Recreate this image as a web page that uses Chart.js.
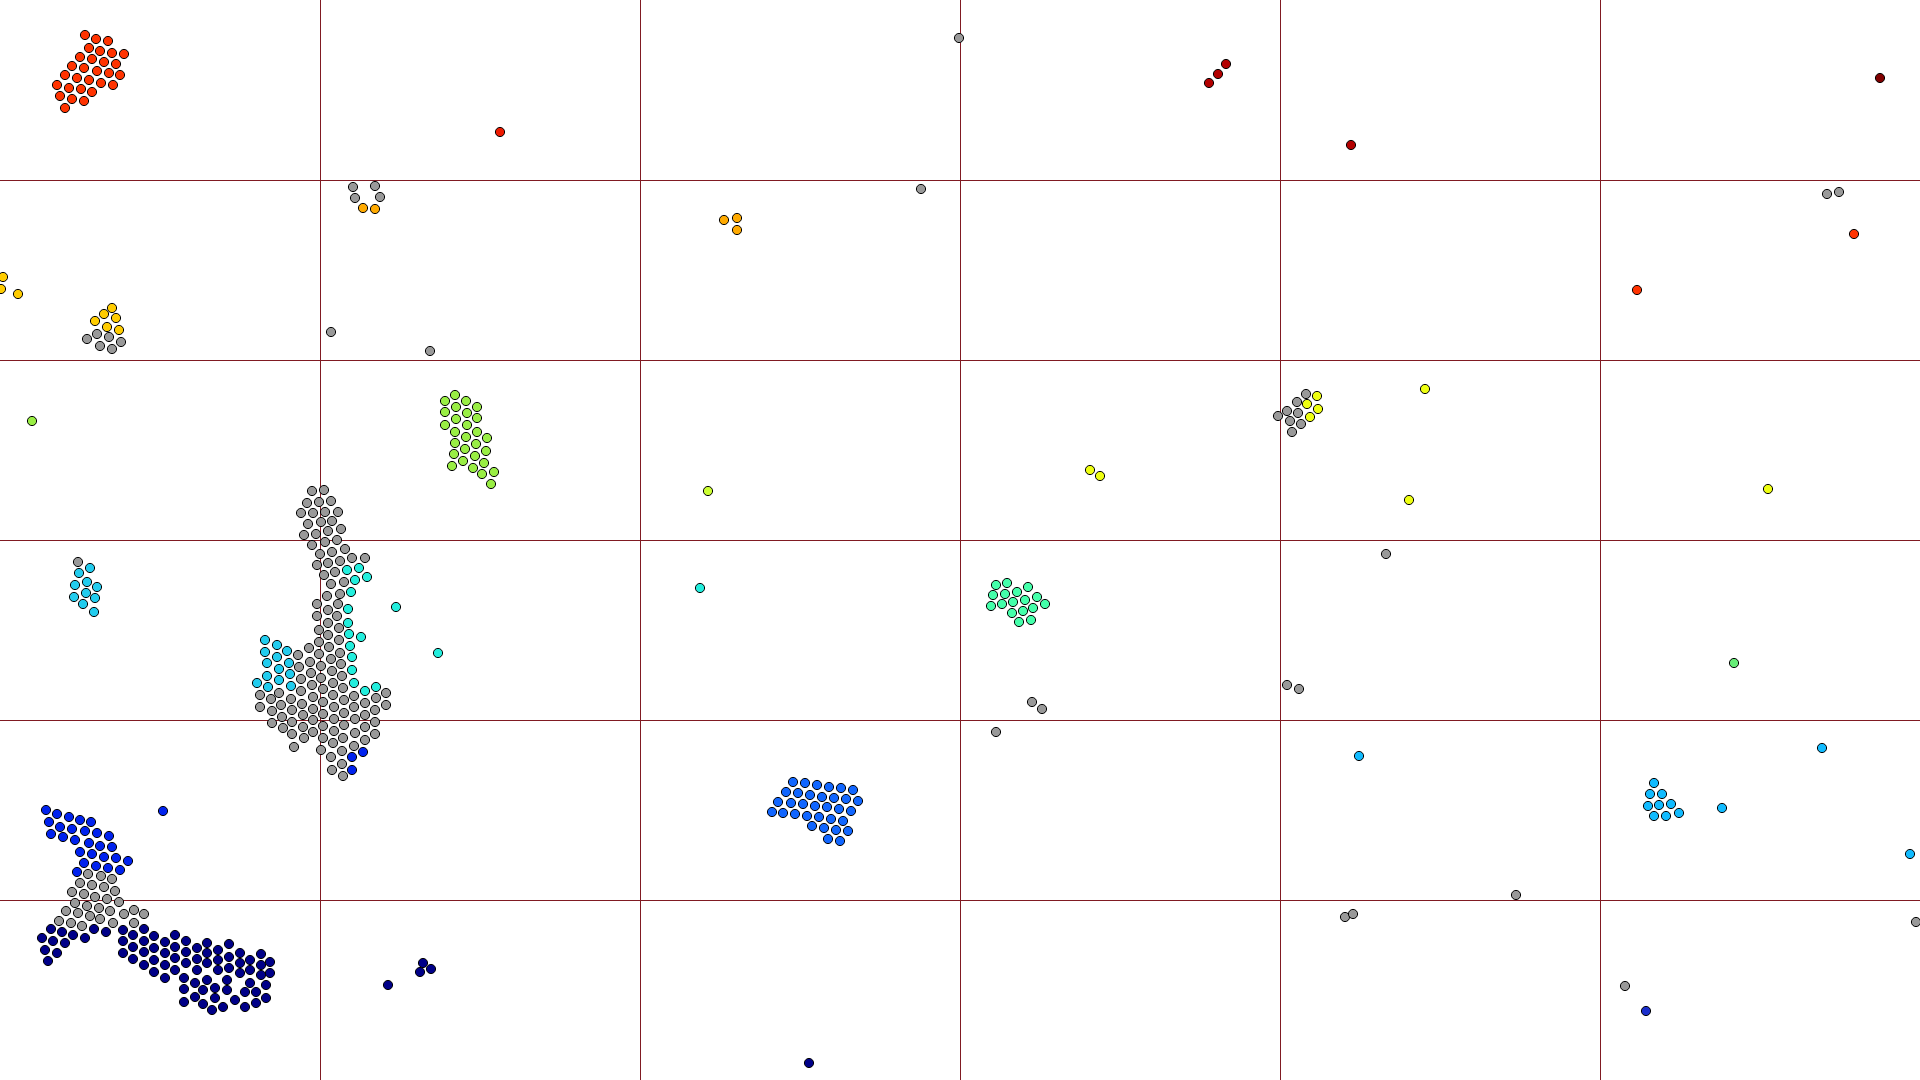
<!DOCTYPE html>
<html>
<head>
<meta charset="utf-8">
<script src="https://cdn.jsdelivr.net/npm/chart.js@4/dist/chart.umd.min.js"></script>
<style>
  html, body { margin: 0; padding: 0; background: #fff; overflow: hidden; }
  canvas { display: block; }
</style>
</head>
<body>
<canvas id="mapChart" width="1920" height="1080"></canvas>
<script>
/* ============================
   Grid: 6 x 6 cells
============================ */
const xMax = 1920;
const yMax = 1080;
const xStep = 320;
const yStep = 180;

/* ============================
   Point groups [x, y]
============================ */
const maroonPts = [[1880, 78]];
const darkRedPts = [[1351, 145], [1209, 83], [1218, 74], [1226, 64]];
const redPts = [[500, 132]];
const redOrangePts = [
  [85, 35], [96, 39], [108, 41], [89, 48], [100, 51], [112, 53], [124, 54],
  [80, 57], [92, 59], [104, 62], [116, 64], [72, 66], [84, 68], [97, 71],
  [109, 73], [120, 75], [65, 75], [77, 78], [89, 80], [101, 83], [113, 85],
  [57, 85], [69, 88], [81, 89], [92, 92], [60, 96], [72, 99], [84, 101], [65, 108],
  [1854, 234], [1637, 290]
];
const orangePts = [[724, 220], [737, 218], [737, 230], [363, 208], [375, 209]];
const goldPts = [
  [3, 277], [1, 289], [18, 294],
  [112, 308], [104, 314], [116, 318], [95, 321], [107, 327], [119, 330]
];
const yellowPts = [
  [1317, 396], [1307, 404], [1318, 409], [1310, 417],
  [1425, 389], [1409, 500], [1768, 489], [1090, 470], [1100, 476]
];
const limePts = [[708, 491]];
const greenPts = [
  [455, 395], [445, 401], [466, 401], [456, 407], [477, 407], [445, 412],
  [467, 413], [456, 419], [477, 418], [445, 425], [467, 425], [455, 432],
  [477, 432], [466, 437], [487, 438], [455, 443], [476, 444], [465, 449],
  [486, 451], [454, 454], [475, 456], [463, 461], [484, 463], [452, 466],
  [473, 468], [494, 472], [482, 474], [491, 484], [32, 421]
];
const mintPts = [[1734, 663]];
const aquaPts = [
  [996, 585], [1007, 583], [993, 595], [1005, 594], [1017, 592], [1028, 587],
  [991, 606], [1002, 604], [1013, 602], [1025, 600], [1037, 597], [1045, 604],
  [1012, 613], [1023, 611], [1033, 608], [1019, 622], [1031, 620]
];
const turquoisePts = [
  [347, 570], [359, 568], [367, 577], [355, 580], [351, 592], [348, 609],
  [348, 623], [349, 634], [350, 646], [352, 657], [352, 670], [354, 683],
  [361, 637], [365, 691], [376, 687], [396, 607], [438, 653], [700, 588]
];
const cyanPts = [
  [257, 683], [265, 640], [265, 652], [267, 663], [267, 676], [268, 687],
  [277, 645], [277, 657], [279, 669], [279, 680], [287, 651], [289, 663],
  [290, 674], [291, 686],
  [79, 573], [90, 568], [75, 585], [87, 582], [97, 587], [74, 597],
  [86, 593], [95, 598], [83, 604], [94, 612]
];
const skyPts = [
  [1654, 783], [1650, 794], [1662, 794], [1648, 806], [1659, 805], [1671, 804],
  [1654, 816], [1666, 816], [1679, 813],
  [1359, 756], [1822, 748], [1722, 808], [1910, 854]
];
const midBluePts = [
  [793, 782], [805, 783], [817, 785], [829, 787], [841, 788], [853, 790],
  [786, 792], [798, 793], [810, 795], [822, 797], [834, 798], [846, 799], [858, 801],
  [778, 802], [791, 803], [803, 804], [815, 806], [827, 807], [839, 809], [851, 811],
  [772, 812], [783, 813], [795, 814], [807, 816], [819, 817], [831, 819], [843, 821],
  [812, 826], [824, 828], [836, 830], [848, 831], [828, 839], [840, 841]
];
const bluePts = [
  [46, 810], [57, 814], [69, 817], [80, 820], [91, 822],
  [49, 822], [60, 827], [72, 829], [85, 831], [97, 833], [109, 836],
  [51, 834], [63, 837], [75, 840], [89, 843], [100, 846], [112, 847],
  [80, 852], [92, 854], [104, 857], [116, 858], [128, 861],
  [84, 863], [96, 866], [108, 868], [120, 870], [77, 872],
  [163, 811], [352, 757], [352, 770], [363, 752]
];
const darkBluePts = [[1646, 1011]];
const navyPts = [
  [51, 929], [62, 932], [73, 935], [85, 938], [94, 929], [106, 932],
  [42, 938], [53, 941], [65, 943], [45, 950], [57, 953], [48, 961],
  [123, 930], [123, 941], [123, 953], [133, 935], [133, 947], [133, 959],
  [144, 929], [144, 941], [144, 952], [144, 965], [154, 936], [154, 948],
  [154, 960], [154, 972], [165, 942], [165, 953], [165, 965], [165, 978],
  [175, 935], [175, 947], [175, 958], [175, 970], [184, 978], [184, 989],
  [184, 1002], [186, 941], [186, 952], [186, 963], [195, 983], [195, 997],
  [197, 948], [197, 959], [197, 970], [203, 990], [203, 1004], [207, 943],
  [207, 953], [207, 963], [207, 980], [212, 1010], [215, 988], [215, 998],
  [218, 950], [218, 960], [218, 970], [223, 1007], [227, 980], [227, 990],
  [229, 944], [229, 957], [229, 968], [235, 1000], [240, 953], [240, 963],
  [240, 973], [245, 992], [245, 1007], [250, 960], [250, 970], [250, 983],
  [256, 992], [256, 1003], [261, 954], [261, 965], [261, 975], [266, 985],
  [266, 998], [270, 962], [270, 973],
  [388, 985], [423, 963], [431, 969], [420, 972], [809, 1063]
];
const grayPts = [
  // big central cluster
  [312, 491], [324, 490], [307, 503], [319, 502], [331, 501], [301, 513],
  [313, 513], [325, 512], [338, 512], [308, 524], [321, 522], [332, 521],
  [304, 535], [316, 534], [328, 531], [341, 529], [312, 545], [325, 542],
  [337, 540], [320, 554], [332, 552], [345, 549], [317, 565], [328, 563],
  [340, 561], [352, 558], [365, 558], [324, 575], [335, 572], [331, 584],
  [344, 582], [327, 596], [340, 594], [317, 604], [338, 604], [317, 616],
  [328, 610], [337, 616],
  [260, 695], [260, 707], [271, 699], [272, 711], [272, 723], [279, 693],
  [281, 705], [282, 717], [283, 728], [291, 699], [292, 710], [292, 722],
  [292, 734], [294, 747], [298, 655], [299, 667], [301, 679], [301, 691],
  [302, 704], [303, 715], [303, 727], [304, 738], [309, 648], [310, 662],
  [311, 673], [312, 685], [313, 697], [313, 709], [313, 720], [313, 732],
  [319, 630], [319, 642], [319, 654], [321, 666], [321, 678], [323, 689],
  [323, 702], [323, 714], [323, 726], [323, 738], [321, 750], [328, 623],
  [328, 635], [329, 647], [331, 659], [332, 671], [333, 683], [333, 695],
  [334, 707], [334, 719], [334, 731], [333, 743], [331, 757], [332, 770],
  [339, 628], [339, 640], [340, 653], [341, 664], [342, 676], [343, 688],
  [344, 700], [344, 713], [344, 725], [343, 738], [342, 751], [342, 764],
  [343, 776], [354, 696], [354, 707], [355, 719], [355, 733], [354, 746],
  [365, 703], [365, 715], [365, 727], [365, 740], [376, 698], [375, 710],
  [375, 722], [375, 734], [386, 693], [386, 705],
  // bottom-left cluster
  [88, 874], [101, 876], [112, 879], [80, 883], [92, 885], [104, 887],
  [115, 891], [72, 892], [84, 894], [95, 897], [107, 899], [119, 902],
  [75, 903], [87, 906], [99, 908], [110, 911], [66, 911], [78, 913],
  [90, 916], [124, 914], [134, 910], [144, 914], [59, 921], [71, 923],
  [82, 926], [100, 919], [113, 923], [134, 923],
  // small groups
  [78, 562],
  [97, 334], [109, 337], [87, 339], [100, 346], [121, 342], [112, 349],
  [1306, 394], [1297, 402], [1287, 411], [1298, 413], [1278, 416],
  [1290, 421], [1301, 424], [1292, 432],
  // scattered
  [959, 38], [353, 187], [375, 186], [355, 198], [380, 197], [921, 189],
  [1827, 194], [1839, 192], [331, 332], [430, 351], [1386, 554],
  [1032, 702], [1042, 709], [996, 732], [1287, 685], [1299, 689],
  [1516, 895], [1345, 917], [1353, 914], [1916, 922], [1625, 986]
];

/* ============================
   Groups & colours
============================ */
const groups = [
  { name: 'gray', pts: grayPts, color: '#999999' },
  { name: 'maroon', pts: maroonPts, color: '#800000' },
  { name: 'darkRed', pts: darkRedPts, color: '#b30000' },
  { name: 'red', pts: redPts, color: '#ee1a00' },
  { name: 'redOrange', pts: redOrangePts, color: '#ff3300' },
  { name: 'orange', pts: orangePts, color: '#ffaa00' },
  { name: 'gold', pts: goldPts, color: '#ffcc00' },
  { name: 'yellow', pts: yellowPts, color: '#eeff11' },
  { name: 'lime', pts: limePts, color: '#ccff33' },
  { name: 'green', pts: greenPts, color: '#99ee44' },
  { name: 'mint', pts: mintPts, color: '#66ee77' },
  { name: 'aqua', pts: aquaPts, color: '#44ffaa' },
  { name: 'turquoise', pts: turquoisePts, color: '#22eedd' },
  { name: 'cyan', pts: cyanPts, color: '#22ccee' },
  { name: 'sky', pts: skyPts, color: '#11bbff' },
  { name: 'midBlue', pts: midBluePts, color: '#1166ff' },
  { name: 'blue', pts: bluePts, color: '#0022ee' },
  { name: 'darkBlue', pts: darkBluePts, color: '#1a2ecc' },
  { name: 'navy', pts: navyPts, color: '#000088' }
];

const gridColor = '#801a22';

function gridLine(ctx, max) {
    const v = ctx.tick ? ctx.tick.value : null;
    return (v === 0 || v === max) ? 'rgba(0,0,0,0)' : gridColor;
}

new Chart(document.getElementById('mapChart').getContext('2d'), {
    type: 'scatter',
    data: {
        datasets: groups.map(g => ({
            label: g.name,
            data: g.pts.map(p => ({ x: p[0], y: p[1] })),
            backgroundColor: g.color,
            borderColor: '#000000',
            borderWidth: 1,
            pointRadius: 4.6,
            clip: 0
        }))
    },
    options: {
        responsive: false,
        animation: false,
        layout: { padding: 0, autoPadding: false },
        plugins: {
            legend: { display: false },
            tooltip: { enabled: false }
        },
        scales: {
            x: {
                type: 'linear',
                min: 0,
                max: xMax,
                ticks: { display: false, stepSize: xStep },
                border: { display: false },
                grid: {
                    drawTicks: false,
                    lineWidth: 1,
                    color: ctx => gridLine(ctx, xMax)
                }
            },
            y: {
                type: 'linear',
                min: 0,
                max: yMax,
                reverse: true,
                ticks: { display: false, stepSize: yStep },
                border: { display: false },
                grid: {
                    drawTicks: false,
                    lineWidth: 1,
                    color: ctx => gridLine(ctx, yMax)
                }
            }
        }
    }
});
</script>
</body>
</html>
